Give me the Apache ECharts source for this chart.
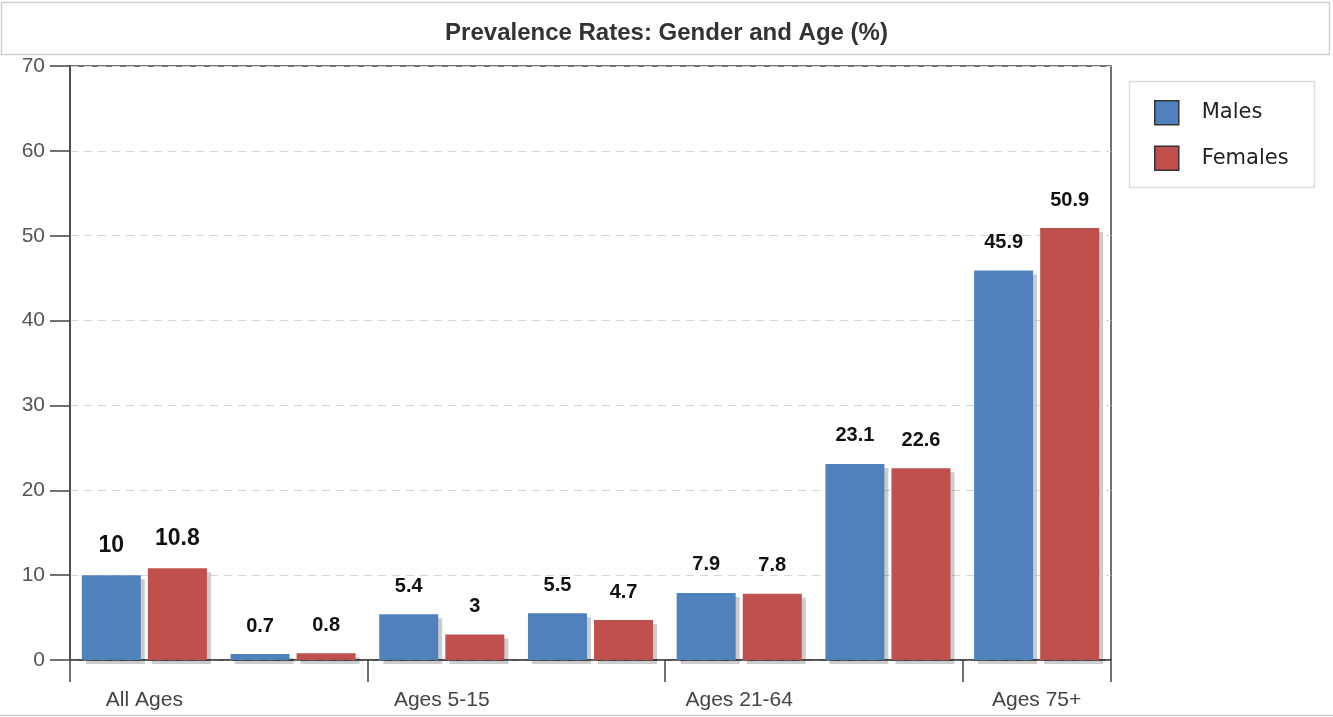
<!DOCTYPE html>
<html>
<head>
<meta charset="utf-8">
<title>Prevalence Rates: Gender and Age (%)</title>
<script src="https://cdn.jsdelivr.net/npm/echarts@6/dist/echarts.min.js"></script>
<style>
  html, body { margin: 0; padding: 0; background: #fff; }
  #chart { width: 1333px; height: 717px; }
</style>
</head>
<body>
<div id="chart"></div>
<script>
// categories (only every second one is labelled on the axis)
const categories = ['All Ages', 'Ages 0-4', 'Ages 5-15', 'Ages 16-20', 'Ages 21-64', 'Ages 65-74', 'Ages 75+']
const males = [10, 0.7, 5.4, 5.5, 7.9, 23.1, 45.9]
const females = [10.8, 0.8, 3, 4.7, 7.8, 22.6, 50.9]
const seriesNames = ['Males', 'Females']
const yTicks = [0, 10, 20, 30, 40, 50, 60, 70]

const FONT = '"Liberation Sans", Arial, sans-serif'

const chart = echarts.init(document.getElementById('chart'), null, { renderer: 'canvas' })

// first group has slightly larger value labels in the original
function withLabels(values) {
  return values.map((v, i) => i === 0 ? { value: v, label: { fontSize: 23 } } : v)
}

const barStyle = (color) => ({
  color: color,
  shadowColor: 'rgba(0,0,0,0.2)',
  shadowOffsetX: 4,
  shadowOffsetY: 4,
  shadowBlur: 0
})

const valueLabel = {
  show: true,
  position: 'top',
  distance: 18,
  fontFamily: FONT,
  fontSize: 20,
  fontWeight: 'bold',
  color: '#111'
}

chart.setOption({
  animation: false,
  color: ['#4F81BD', '#C0504D'],
  title: {
    text: 'Prevalence Rates: Gender and Age (%)',
    left: 'center',
    top: 16,
    textStyle: { fontFamily: FONT, fontSize: 24, fontWeight: 'bold', color: '#333' }
  },
  graphic: [
    { type: 'rect', shape: { x: 1.5, y: 2.5, width: 1328, height: 52 }, style: { fill: 'none', stroke: '#cfcfcf', lineWidth: 1.5 }, z: -1 },
    { type: 'rect', shape: { x: 1129.5, y: 81.5, width: 185, height: 106 }, style: { fill: 'none', stroke: '#dcdcdc', lineWidth: 1.5 }, z: -1 },
    { type: 'line', shape: { x1: 0, y1: 715.5, x2: 1333, y2: 715.5 }, style: { stroke: '#cfcfcf', lineWidth: 1.5 }, z: -1 }
  ],
  legend: {
    data: seriesNames,
    orient: 'vertical',
    left: 1154,
    top: 100,
    padding: 0,
    itemWidth: 24,
    itemHeight: 24,
    itemGap: 20,
    icon: 'rect',
    itemStyle: { borderColor: '#333', borderWidth: 1.5, shadowColor: 'transparent' },
    textStyle: { fontFamily: '"DejaVu Sans", sans-serif', fontSize: 21, color: '#222', padding: [4, 0, 0, 18] }
  },
  grid: {
    left: 70,
    right: 222,
    top: 66,
    bottom: 57,
    show: true,
    borderColor: '#444',
    borderWidth: 1.5,
    containLabel: false
  },
  xAxis: {
    type: 'category',
    data: categories,
    boundaryGap: true,
    axisLine: { show: true, lineStyle: { color: '#444', width: 1.5 } },
    axisTick: { show: true, interval: 1, length: 22, lineStyle: { color: '#444', width: 1.5 } },
    axisLabel: { show: true, interval: 1, margin: 30, fontFamily: FONT, fontSize: 21, color: '#444' }
  },
  yAxis: {
    type: 'value',
    min: yTicks[0],
    max: yTicks[yTicks.length - 1],
    interval: 10,
    axisLine: { show: true, lineStyle: { color: '#444', width: 1.5 } },
    axisTick: { show: true, length: 20, lineStyle: { color: '#444', width: 1.5 } },
    axisLabel: { margin: 25, fontFamily: FONT, fontSize: 21, color: '#555' },
    splitLine: { show: true, lineStyle: { color: '#d6d6d6', type: [8, 6], width: 1 } }
  },
  series: [
    {
      name: seriesNames[0],
      type: 'bar',
      data: withLabels(males),
      barWidth: 59,
      barGap: '12%',
      itemStyle: barStyle('#4F81BD'),
      label: valueLabel
    },
    {
      name: seriesNames[1],
      type: 'bar',
      data: withLabels(females),
      barWidth: 59,
      barGap: '12%',
      itemStyle: barStyle('#C0504D'),
      label: valueLabel
    }
  ]
})
</script>
</body>
</html>
